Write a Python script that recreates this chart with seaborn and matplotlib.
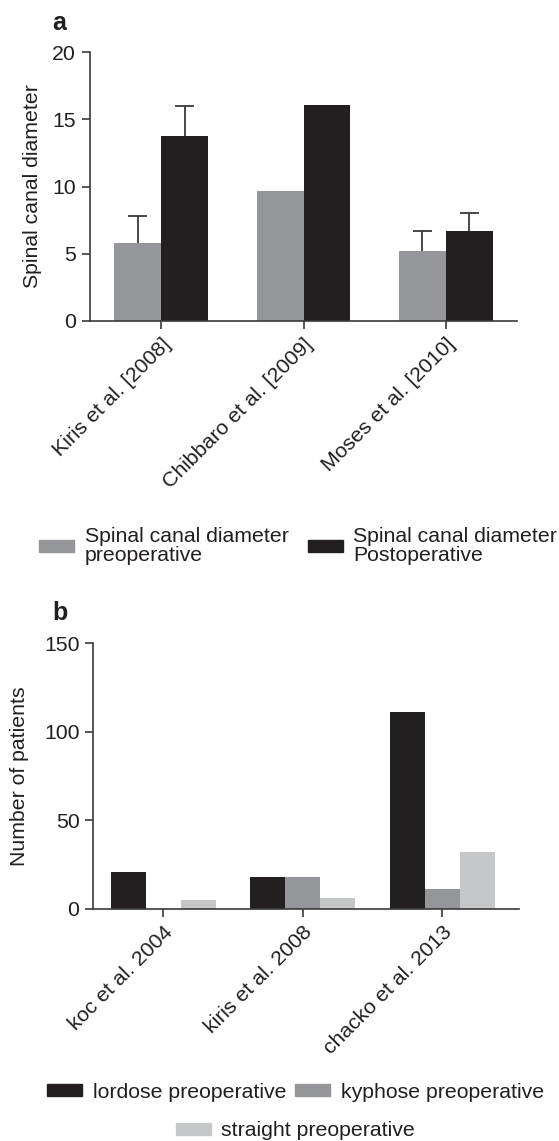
import numpy as np
import pandas as pd
import matplotlib
matplotlib.use("Agg")
import matplotlib.pyplot as plt
from matplotlib.patches import Patch
import seaborn as sns

# ---- panel a: spinal canal diameter before / after surgery ----
studies_a = ["Kiris et al. [2008]", "Chibbaro et al. [2009]", "Moses et al. [2010]"]
pre_mean = [5.8, 9.7, 5.2]
post_mean = [13.8, 16.1, 6.7]
pre_err = [2.0, np.nan, 1.5]
post_err = [2.2, np.nan, 1.35]
groups_a = ["Spinal canal diameter\npreoperative", "Spinal canal diameter\nPostoperative"]

# ---- panel b: preoperative cervical alignment ----
studies_b = ["koc et al. 2004", "kiris et al. 2008", "chacko et al. 2013"]
lordose = [21, 18, 111]
kyphose = [0, 18, 11]
straight = [5, 6, 32]
groups_b = ["lordose preoperative", "kyphose preoperative", "straight preoperative"]

DARK = "#231f20"
MID = "#959699"
LIGHT = "#c6c7c9"
AXC = "#3a3a3a"

sns.set_style("ticks")
plt.rcParams["font.family"] = ["Liberation Sans", "DejaVu Sans"]
plt.rcParams["text.color"] = DARK
plt.rcParams["axes.labelcolor"] = DARK
plt.rcParams["xtick.color"] = AXC
plt.rcParams["ytick.color"] = AXC
plt.rcParams["xtick.labelcolor"] = DARK
plt.rcParams["ytick.labelcolor"] = DARK

FS = 15.3
W, H = 559, 1141
fig = plt.figure(figsize=(W / 100, H / 100), dpi=100)


def axes_px(left, right, top, bottom):
    return fig.add_axes([left / W, 1 - bottom / H, (right - left) / W, (bottom - top) / H])


def style_axes(ax):
    sns.despine(ax=ax)
    for s in ("left", "bottom"):
        ax.spines[s].set_color(AXC)
        ax.spines[s].set_linewidth(1.2)
    ax.tick_params(axis="both", direction="out", length=6, width=1.2, labelsize=FS, pad=4)
    ax.set_xlabel("")


def rotate_labels(ax):
    for lab in ax.get_xticklabels():
        lab.set_rotation(45)
        lab.set_ha("right")
        lab.set_rotation_mode("anchor")


# ---------------- panel a ----------------
df_a = pd.DataFrame({
    "study": studies_a * 2,
    "group": [groups_a[0]] * 3 + [groups_a[1]] * 3,
    "value": pre_mean + post_mean,
})
ax1 = axes_px(90, 517, 52.3, 320.7)
sns.barplot(data=df_a, x="study", y="value", hue="group", order=studies_a,
            hue_order=groups_a, palette=[MID, DARK], saturation=1, width=0.66,
            errorbar=None, legend=False, linewidth=0, ax=ax1)

# one-sided (upper) error bars with a cap at the top only
CAP = 0.067
for cont, errs in zip(ax1.containers, [pre_err, post_err]):
    for bar, e in zip(cont, errs):
        if np.isnan(e):
            continue
        xc = bar.get_x() + bar.get_width() / 2
        top = bar.get_height() + e
        ax1.vlines(xc, bar.get_height(), top, color=AXC, linewidth=1.3, zorder=1)
        ax1.hlines(top, xc - CAP, xc + CAP, color=AXC, linewidth=1.3, zorder=1)

ax1.set_xlim(-0.5, 2.5)
ax1.set_ylim(0, 20)
ax1.set_yticks([0, 5, 10, 15, 20])
ax1.set_ylabel("Spinal canal diameter", fontsize=FS)
ax1.yaxis.set_label_coords(-0.112, 0.5)
style_axes(ax1)
rotate_labels(ax1)

leg_a = fig.legend(handles=[Patch(color=MID, label=groups_a[0]), Patch(color=DARK, label=groups_a[1])],
                   loc="center", bbox_to_anchor=(298 / W, 1 - 546 / H), ncol=2,
                   frameon=False, fontsize=FS, handlelength=1.65, handleheight=0.48,
                   handletextpad=0.5, columnspacing=0.9, borderpad=0, borderaxespad=0)
for t in leg_a.get_texts():
    t.set_linespacing(1.0)

fig.text(52 / W, 1 - 30 / H, "a", fontsize=18, fontweight="bold", ha="left", va="baseline")

# ---------------- panel b ----------------
df_b = pd.DataFrame({
    "study": studies_b * 3,
    "group": [groups_b[0]] * 3 + [groups_b[1]] * 3 + [groups_b[2]] * 3,
    "value": lordose + kyphose + straight,
})
ax2 = axes_px(93.3, 519.3, 643.3, 908.7)
sns.barplot(data=df_b, x="study", y="value", hue="group", order=studies_b,
            hue_order=groups_b, palette=[DARK, MID, LIGHT], saturation=1, width=0.75,
            errorbar=None, legend=False, linewidth=0, ax=ax2)
ax2.set_xlim(-0.5, 2.55)
ax2.set_ylim(0, 150)
ax2.set_yticks([0, 50, 100, 150])
ax2.set_ylabel("Number of patients", fontsize=FS)
ax2.yaxis.set_label_coords(-0.15, 0.5)
style_axes(ax2)
rotate_labels(ax2)

fig.legend(handles=[Patch(color=DARK, label=groups_b[0]), Patch(color=MID, label=groups_b[1])],
           loc="center", bbox_to_anchor=(295.5 / W, 1 - 1092 / H), ncol=2,
           frameon=False, fontsize=FS, handlelength=1.65, handleheight=0.48,
           handletextpad=0.5, columnspacing=0.4, borderpad=0, borderaxespad=0)
fig.legend(handles=[Patch(color=LIGHT, label=groups_b[2])],
           loc="center", bbox_to_anchor=(295.5 / W, 1 - 1131 / H), ncol=1,
           frameon=False, fontsize=FS, handlelength=1.65, handleheight=0.48,
           handletextpad=0.5, borderpad=0, borderaxespad=0)

fig.text(52 / W, 1 - 620 / H, "b", fontsize=18, fontweight="bold", ha="left", va="baseline")

fig.savefig("out.png", dpi=100)
